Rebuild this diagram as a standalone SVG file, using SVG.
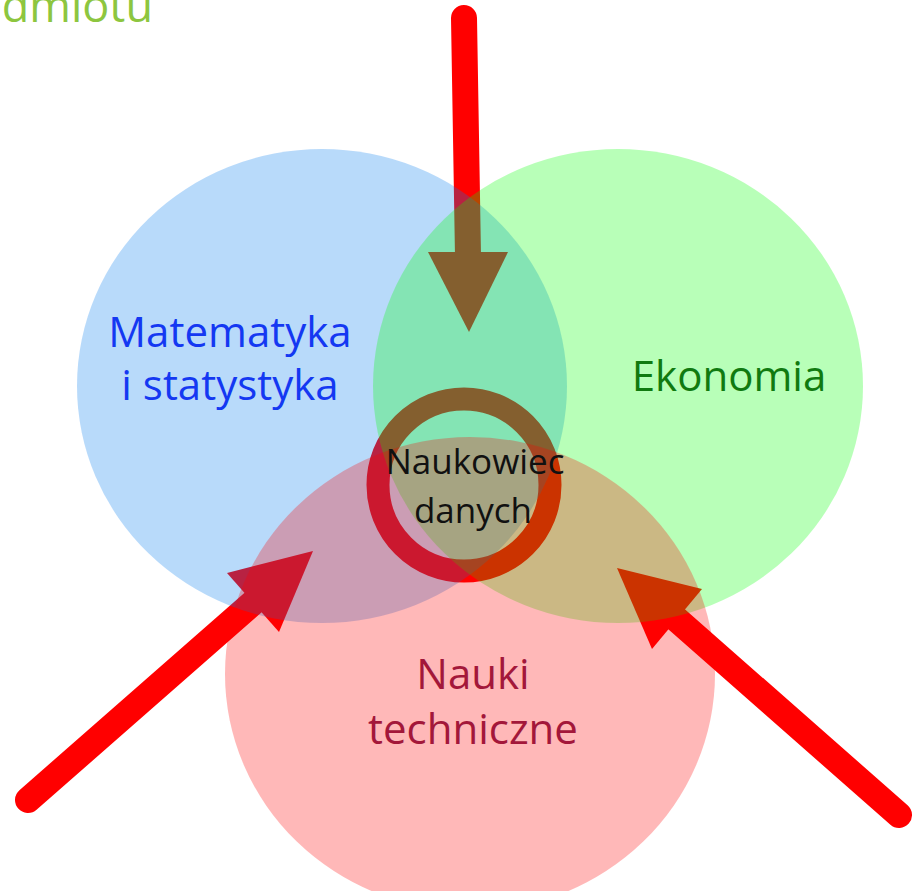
<svg xmlns="http://www.w3.org/2000/svg" width="912" height="891" viewBox="0 0 912 891">
<style>
.shaft{stroke:#ff0000;stroke-width:26;stroke-linecap:round;fill:none}
.head{fill:#ff0000}
.venn{fill-opacity:0.28}
.lbl{font-family:"Open Sans","Noto Sans",sans-serif;text-anchor:middle}
</style>
<rect width="912" height="891" fill="#ffffff"/>
<text x="153" y="22" font-family="Open Sans, Noto Sans, sans-serif" font-size="45" fill="#8dc63f" text-anchor="end">edmiotu</text>
<text x="2.5" y="367" font-family="Open Sans, Noto Sans, sans-serif" font-size="44" fill="#666666" text-anchor="end">n</text>
<g id="connectors">
<line class="shaft" x1="464" y1="18" x2="468" y2="256"/>
<polygon class="head" points="428,252 508,252 469,332"/>
<line class="shaft" x1="28" y1="800" x2="256" y2="600"/>
<polygon class="head" points="313,551 227,573 279,632"/>
<line class="shaft" x1="899" y1="815" x2="674" y2="617"/>
<polygon class="head" points="617,568 702,589 652,649"/>
</g>
<g id="ring">
<circle cx="464" cy="485" r="86" fill="none" stroke="#ff0000" stroke-width="23"/>
</g>
<g id="matematyka">
<ellipse class="venn" cx="322" cy="386" rx="245" ry="237" fill="#007bed"/>
<text class="lbl" x="230" y="347" font-size="42" fill="#1438f2">Matematyka</text>
<text class="lbl" x="230" y="400" font-size="42" fill="#1438f2">i statystyka</text>
</g>
<g id="ekonomia">
<ellipse class="venn" cx="618" cy="386" rx="245" ry="237" fill="#00ff00"/>
<text class="lbl" x="729" y="391" font-size="42" fill="#107a10">Ekonomia</text>
</g>
<g id="nauki">
<ellipse class="venn" cx="470" cy="674" rx="245" ry="237" fill="#ff0000"/>
<text class="lbl" x="473" y="689" font-size="42" fill="#a3173a">Nauki</text>
<text class="lbl" x="473" y="744" font-size="42" fill="#a3173a">techniczne</text>
</g>
<g id="naukowiec">
<text class="lbl" x="475" y="474" font-size="35" fill="#111111">Naukowiec</text>
<text class="lbl" x="473" y="523" font-size="35" fill="#111111">danych</text>
</g>
</svg>
